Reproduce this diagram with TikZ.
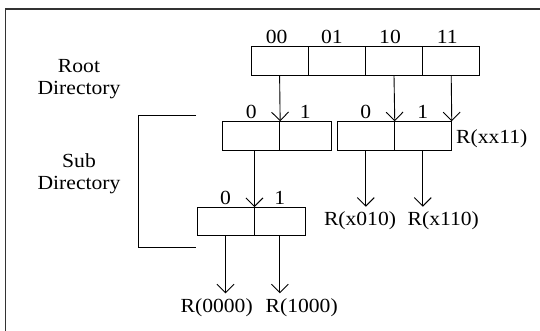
\documentclass[tikz,border=0pt]{standalone}
\usepackage{fontspec}
\setmainfont[FakeStretch=1.08]{Liberation Serif}
\usetikzlibrary{arrows.meta}
\begin{document}
\begin{tikzpicture}[x=1pt,y=-1pt,
  cell/.style={draw, line width=0.9pt, rectangle, inner sep=0pt, minimum height=28.3pt},
  lbl/.style={inner sep=0pt, font=\fontsize{20}{21.5}\selectfont},
  bit/.style={lbl, anchor=south},
  conn/.style={line width=0.9pt, -{Straight Barb[length=8.5pt,width=17pt,line width=0.9pt]}},
  plain/.style={line width=0.9pt},
  frame/.style={line width=1.4pt, draw=black!80}]
\useasboundingbox (0,0) rectangle (540,331);
% frame (only top and left edges visible)
\coordinate (fbl) at (5.5,331);
\coordinate (ftl) at (5.5,9);
\coordinate (ftr) at (540,9);
\draw[frame] (fbl) -- (ftl) -- (ftr);
% root directory
\node[cell, minimum width=57.2pt] (r1) at (279.6,60.85) {};
\node[cell, minimum width=57.2pt] (r2) at (336.8,60.85) {};
\node[cell, minimum width=57.2pt] (r3) at (394.0,60.85) {};
\node[cell, minimum width=57.2pt] (r4) at (451.2,60.85) {};
\node[bit] (l00) at ([xshift=-3pt,yshift=2.5pt]r1.north) {00};
\node[bit] (l01) at ([xshift=-5pt,yshift=2.5pt]r2.north) {01};
\node[bit] (l10) at ([xshift=-4pt,yshift=2.5pt]r3.north) {10};
\node[bit] (l11) at ([xshift=-4pt,yshift=2.5pt]r4.north) {11};
% sub directory 1
\node[cell, minimum width=57pt] (a0) at (251.2,135.85) {};
\node[cell, minimum width=51.3pt] (a1) at (305.35,135.85) {};
\node[bit] (la0) at ([yshift=2.5pt]a0.north) {0};
\node[bit] (la1) at ([yshift=2.5pt]a1.north) {1};
% sub directory 2
\node[cell, minimum width=57pt] (b0) at (365.8,135.85) {};
\node[cell, minimum width=57pt] (b1) at (422.8,135.85) {};
\node[bit] (lb0) at ([yshift=2.5pt]b0.north) {0};
\node[bit] (lb1) at ([yshift=2.5pt]b1.north) {1};
\node[lbl, anchor=west] (rxx11) at (456,139) {R(xx11)};
% sub directory 3
\node[cell, minimum width=57pt] (c0) at (225.5,221.65) {};
\node[cell, minimum width=51.7pt] (c1) at (279.85,221.65) {};
\node[bit] (lc0) at ([yshift=2.5pt]c0.north) {0};
\node[bit] (lc1) at ([yshift=2.5pt]c1.north) {1};
% record labels
\node[lbl] (rx010) at (360,221) {R(x010)};
\node[lbl] (rx110) at (443.3,221) {R(x110)};
\node[lbl] (r0000) at (216.7,308) {R(0000)};
\node[lbl] (r1000) at (301.7,308) {R(1000)};
% side labels
\node[lbl, align=center] (root) at (79,79) {Root\\Directory};
\node[lbl, align=center] (sub) at (79,173.5) {Sub\\Directory};
% bracket
\coordinate (bt) at (196,115.7);
\coordinate (bb) at (196,247.3);
\coordinate (bl) at (138.3,0);
\draw[plain] (bt) -| (bl |- bb) -- (bb);
% connectors
\draw[conn] (r1.south) -- (a0.north east);
\draw[conn] (r3.south) -- (b0.north east);
\draw[conn] (r4.south) -- (b1.north east);
\draw[conn] (c0.north east |- a0.south) -- (c0.north east);
\coordinate (e1) at (b0.south |- 0,206.7);
\coordinate (e2) at (b1.south |- 0,206.7);
\coordinate (e3) at (c0.south |- 0,293.3);
\coordinate (e4) at (c1.south |- 0,293.3);
\draw[conn] (b0.south) -- (e1);
\draw[conn] (b1.south) -- (e2);
\draw[conn] (c0.south) -- (e3);
\draw[conn] (c1.south) -- (e4);
\end{tikzpicture}
\end{document}
